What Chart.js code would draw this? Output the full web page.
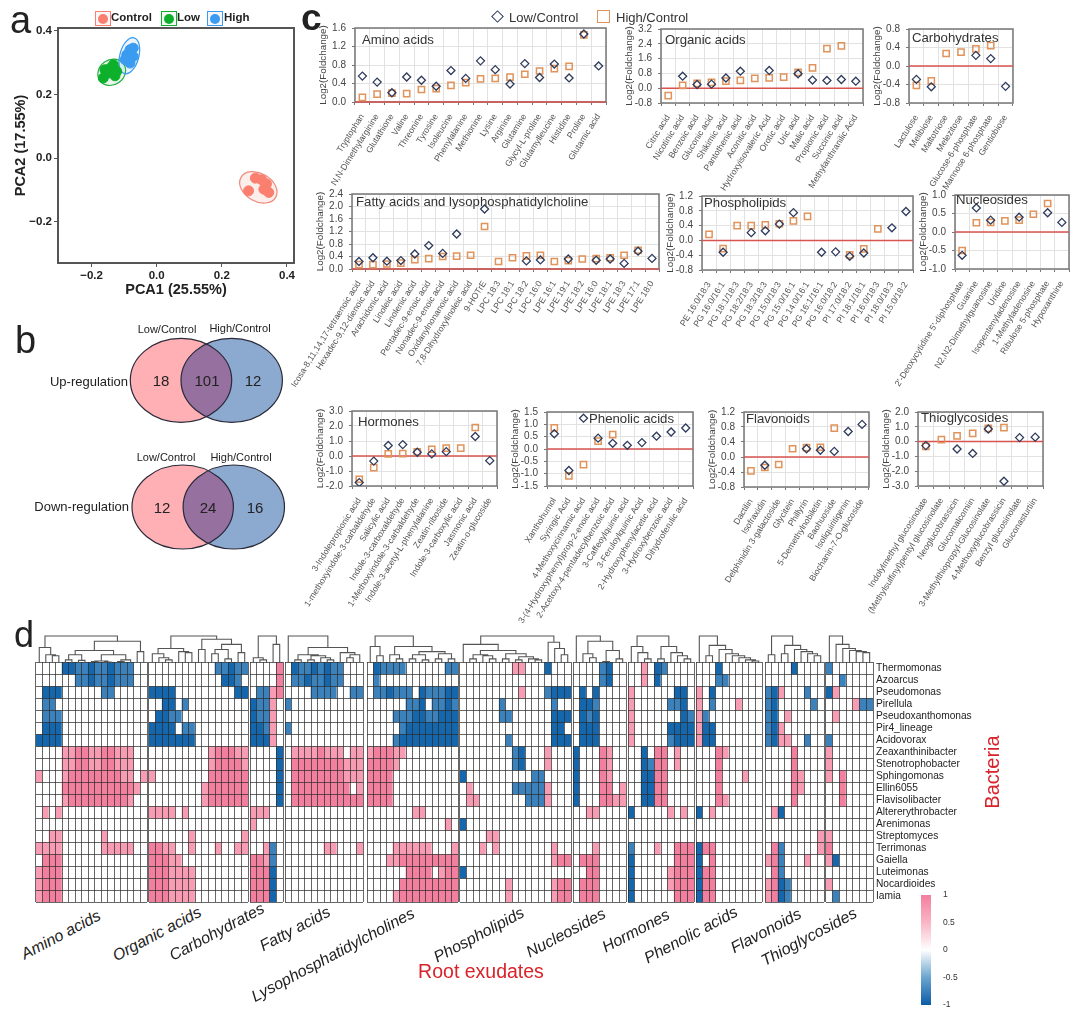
<!DOCTYPE html>
<html>
<head>
<meta charset="utf-8">
<title>Root exudates and bacteria</title>
<script src="https://cdn.jsdelivr.net/npm/chart.js@4/dist/chart.umd.min.js"></script>
<style>
html, body { margin: 0; padding: 0; background: #fff; }
#page { position: relative; width: 1080px; height: 1015px; overflow: hidden; font-family: "Liberation Sans", Arial, sans-serif; }
#page canvas { position: absolute; }
.txt { position: absolute; white-space: nowrap; line-height: 1; }
</style>
</head>
<body>
<div id="page"></div>
<script>
// PCA scores
const controlX = [0.282, 0.303, 0.322, 0.337, 0.329, 0.344];
const controlY = [-0.103, -0.063, -0.068, -0.081, -0.098, -0.108];
const lowX = [-0.164, -0.159, -0.143, -0.133, -0.123, -0.128, -0.148];
const lowY = [0.252, 0.278, 0.283, 0.294, 0.273, 0.259, 0.268];
const highX = [-0.072, -0.082, -0.092, -0.097, -0.082, -0.072, -0.087];
const highY = [0.346, 0.341, 0.325, 0.31, 0.299, 0.32, 0.315];
const pcaTicksX = [-0.2, 0, 0.2, 0.4];
const pcaTicksY = [-0.2, 0, 0.2, 0.4];

// Venn counts
const vennUp = [18, 101, 12];
const vennDown = [12, 24, 16];

// Fold change panels
const aminoNames = ["Tryptophan", "N,N-Dimethylarginine", "Glutathione", "Valine", "Threonine", "Tyrosine", "Isoleucine", "Phenylalanine", "Methionine", "Lysine", "Arginine", "Glutamine", "Glycyl-L-proline", "Glutamylleucine", "Histidine", "Proline", "Glutamic acid"];
const aminoLow = [0.56, 0.43, 0.2, 0.54, 0.47, 0.34, 0.68, 0.51, 0.89, 0.7, 0.39, 0.83, 0.53, 0.82, 0.52, 1.47, 0.78];
const aminoHigh = [0.1, 0.17, 0.19, 0.18, 0.27, 0.29, 0.36, 0.42, 0.5, 0.51, 0.54, 0.6, 0.67, 0.72, 0.77, 1.45, null];
const aminoTicks = [0, 0.4, 0.8, 1.2, 1.6];

const organicNames = ["Citric acid", "Nicotinic acid", "Benzoic acid", "Gluconic acid", "Shikimic acid", "Pantothenic acid", "Aconitic acid", "Hydroxyisovaleric Acid", "Orotic acid", "Uric acid", "Malic acid", "Propionic acid", "Succinic acid", "Methylanthranilic Acid"];
const organicLow = [null, 0.65, 0.2, 0.22, 0.55, 0.92, null, 0.96, null, 0.78, 0.44, 0.42, 0.47, 0.38];
const organicHigh = [-0.4, 0.15, 0.26, 0.31, 0.38, 0.42, 0.53, 0.56, 0.6, 0.85, 1.1, 2.14, 2.29, null];
const organicTicks = [-0.8, 0, 0.8, 1.6, 2.4, 3.2];

const carbNames = ["Lactulose", "Melibiose", "Maltotriose", "Melezitose", "Glucose-6-phosphate", "Mannose 6-phosphate", "Gentiobiose"];
const carbLow = [-0.29, -0.45, null, null, 0.23, 0.16, -0.44];
const carbHigh = [-0.42, -0.32, 0.27, 0.3, 0.37, 0.44, null];
const carbTicks = [-0.8, -0.4, 0, 0.4, 0.8];

const fattyNames = ["Icosa-8,11,14,17-tetraenoic acid", "Hexadec-9,12-dienoic acid", "Arachidonic acid", "Linoleic acid", "Linolenic acid", "Pentadec-9-enoic acid", "Nonadec-9-enoic acid", "Oxidanylnonanoic acid", "7,8-Dihydroxylinoleic acid", "9-HOTrE", "LPC 18:3", "LPC 18:1", "LPC 18:2", "LPC 16:0", "LPE 16:1", "LPE 19:1", "LPE 18:2", "LPE 16:0", "LPE 18:1", "LPE 18:3", "LPE 17:1", "LPE 18:0"];
const fattyLow = [0.24, 0.36, 0.25, 0.27, 0.48, 0.75, 0.5, 1.12, null, 1.92, null, null, 0.26, 0.29, null, 0.32, null, 0.28, 0.32, 0.18, 0.57, 0.34];
const fattyHigh = [0.14, 0.14, 0.16, 0.19, 0.3, 0.33, 0.4, 0.41, 0.44, 1.36, 0.24, 0.36, 0.42, 0.44, 0.24, 0.27, 0.32, 0.33, 0.36, 0.44, 0.6, null];
const fattyTicks = [0, 0.4, 0.8, 1.2, 1.6, 2.0, 2.4];

const phosphoNames = ["PE 16:0/18:3", "PG 16:0/16:1", "PG 18:1/18:3", "PG 18:2/18:3", "PG 18:3/18:3", "PG 15:0/18:3", "PG 15:0/16:1", "PG 14:0/16:1", "PG 16:1/16:1", "PG 16:0/18:2", "PI 17:0/18:2", "PI 18:1/18:1", "PI 16:0/18:3", "PI 18:0/18:3", "PI 15:0/18:2"];
const phosphoLow = [null, -0.32, null, 0.21, 0.26, 0.44, 0.75, null, -0.32, -0.31, -0.43, -0.34, null, 0.34, 0.78];
const phosphoHigh = [0.16, -0.22, 0.4, 0.4, 0.42, 0.45, 0.53, 0.65, null, null, -0.39, -0.23, 0.31, null, null];
const phosphoTicks = [-0.8, -0.4, 0, 0.4, 0.8, 1.2];

const nucleoNames = ["2'-Deoxycytidine 5'-diphosphate", "Guanine", "N2,N2-Dimethylguanosine", "Uridine", "Isopentenyladenosine", "1-Methyladenosine", "Ribulose 5-phosphate", "Hypoxanthine"];
const nucleoLow = [-0.63, 0.65, 0.32, null, 0.4, null, 0.52, 0.26];
const nucleoHigh = [-0.5, 0.25, 0.26, 0.3, 0.32, 0.48, 0.77, null];
const nucleoTicks = [-1, -0.5, 0, 0.5, 1];

const hormoneNames = ["3-Indolepropionic acid", "1-methoxyindole-3-carbaldehyde", "Salicylic acid", "Indole-3-carboxaldehyde", "1-Methoxyindole-3-carbaldehyde", "Indole-3-acetyl-L-phenylalanine", "Zeatin-riboside", "Indole-3-carboxylic acid", "Jasmonic acid", "Zeatin-o-glucoside"];
const hormoneLow = [-1.77, -0.34, 0.7, 0.76, 0.25, 0.14, 0.29, null, 1.3, -0.31];
const hormoneHigh = [-1.55, -0.78, 0.14, 0.16, 0.27, 0.45, 0.52, 0.52, 1.9, null];
const hormoneTicks = [-2, -1, 0, 1, 2, 3];

const phenolicNames = ["Xanthohumol", "Syringic Acid", "4-Methoxycinnamic acid", "3-(4-Hydroxyphenyl)prop-2-enoic acid", "2-Acetoxy-4-pentadecylbenzoic acid", "3-Caffeoylquinic acid", "3-Feruloylquinic Acid", "2-Hydroxyphenylacetic acid", "3-Hydroxybenzoic acid", "Dihydroferulic acid"];
const phenolicLow = [0.62, -0.87, 1.25, 0.44, 0.23, 0.15, 0.26, 0.52, 0.69, 0.85];
const phenolicHigh = [0.86, -1.09, -0.63, 0.32, 0.58, null, null, null, null, null];
const phenolicTicks = [-1.5, -1, -0.5, 0, 0.5, 1, 1.5];

const flavoNames = ["Dactilin", "Isofraxidin", "Delphinidin 3-galactoside", "Glycitein", "Phillyrin", "5-Demethylnobiletin", "Baohuoside", "Isoliquiritigenin", "Biochanin-7-O-glucoside"];
const flavoLow = [null, -0.22, null, null, 0.22, 0.18, 0.15, 0.68, 0.87];
const flavoHigh = [-0.37, -0.28, -0.2, 0.22, 0.25, 0.26, 0.77, null, null];
const flavoTicks = [-0.8, -0.4, 0, 0.4, 0.8, 1.2];

const thioNames = ["Indolylmethyl glucosinolate", "(Methylsulfinyl)pentyl glucosinolate", "Neoglucobrassicin", "Glucomalcomiin", "3-Methylthiopropyl-Glucosinolate", "4-Methoxyglucobrassicin", "Benzyl glucosinolate", "Gluconasturtiin"];
const thioLow = [-0.27, null, -0.5, -0.8, 0.85, -2.68, 0.27, 0.3];
const thioHigh = [-0.33, 0.13, 0.38, 0.56, 0.9, 0.94, null, null];
const thioTicks = [-3, -2, -1, 0, 1, 2];

// Heatmap rows, one string per bacterium. . = none, p/q = positive, b/c = negative
const bacteria = ["Thermomonas", "Azoarcus", "Pseudomonas", "Pirellula", "Pseudoxanthomonas", "Pir4_lineage", "Acidovorax", "Zeaxanthinibacter", "Stenotrophobacter", "Sphingomonas", "Ellin6055", "Flavisolibacter", "Altererythrobacter", "Arenimonas", "Streptomyces", "Terrimonas", "Gaiella", "Luteimonas", "Nocardioides", "Iamia"];
const aminoCells = ["....ccbbcbbcbbb..", "......bbcbbcbbb..", ".ccc......bb.....", ".bb..............", ".bbb.............", ".ccc.............", "cccc.............", "....ppqqppqqppp..", "....ppqqppqqppp..", "p...pqqqqqqqqpp.p", "....qqqqqqqqqqqp.", "....pqqqqqqqqqp..", ".p.p.............", ".................", "..pp......p......", "pppp......ppppp..", ".qqq.............", "pqqq.............", "pqqq.............", "pqqq............."];
const organicCells = ["..........bbcbb", "...........ccb.", "cccc.........cc", "..cc.b.........", ".ccbb..........", "cccc.bb........", "ccccccc........", ".........pqqqpp", ".........pqqqqp", "p........qqqqqq", "........pqqqqqq", "........pqqqqqq", "pppp.p.........", "...............", "......p.......p", "qqpp..p...p..pp", "qqqpp..........", "qqqpppp........", "qqqpppp........", "qqqpppp........"];
const carbCells = ["....q", "....q", ".bbpq", "cbbp.", "cbbp.", "ccbp.", "cccp.", "....c", "....c", "....c", "....c", "....c", "ppp..", "p....", ".....", "..pb.", "qqpb.", "qqqc.", "qqqc.", "qqqc."];
const fattyCells = [".cbbcbcbb...", ".bbcbbcbb...", "....bbbb..bb", "b...........", "............", "b...........", "............", ".ppppqppp.pp", ".qqqqqqqqppp", ".qqqqqqqqppp", ".qqqqqqqqq.p", ".qqqqqqqqqqq", "............", "............", "............", "......pp...p", "............", "............", "............", "............"];
const lysoCells = [".cbbbb......bb", ".b............", ".bbcbbb.cbbbcc", "......bbc.bbcb", "....bbbccbbccc", ".....bcccccccc", "....bccccccccc", "pqqqpp........", "qqqqp.........", "qqqq..........", "qqqq..........", "qqqq..........", ".......pp.....", "............p.", "..............", "....pppppp...p", "...ppqqqqqqqqq", "......qqqq.pqq", ".....qqqqqqqqq", "....pqqqqqqqqq"];
const phosphoCells = ["........pp...c...", ".................", ".........p...bccc", "......b.......b..", "......bb......ccc", "..............cc.", ".......b......ccc", "........bc...p...", "........bc...p...", "c..........bb....", ".p......bbbbbp...", ".pp.......bbbp...", ".................", "c................", "....pp...........", "...p.p........p..", "..............pqq", "c................", ".......p......pqq", ".......p......pqq"];
const nucleoCells = ["....bc..", "....bc..", ".c.c....", ".ccb....", ".cbc....", ".ccc....", ".ccc....", "c...qp..", "c...qp..", "c...qp..", "c...qq.p", "c...qqpp", "..pp....", "........", "........", "...p....", ".qqq....", "..qq....", ".qqq....", ".qqq...."];
const hormoneCells = ["..p.cb....", "..p.c.....", "p......cc.", "p.....bbc.", "p.......cb", "p.....cccc", "p.....bccc", "..c.qq.p..", "..cbqq.p..", "..ccqq....", "..ccqq....", "..ccqq....", "c.....p.p.", "..........", "..........", "b...p..qqq", "c......qqq", "c.....pqqq", "c.....pqqq", "c......qqq"];
const phenolicCells = ["...c......", "...bb.....", "p.c.......", "p.b...p...", "pb........", "pcc.......", "pcc.......", "...qp.....", "...q......", "...q...p..", "...q......", "...qp.....", "c.p.......", "..........", "..........", "cqq.......", "c.q.......", "cqq.......", "cqq.......", "cqq......."];
const flavoCells = ["....c....", ".........", "bcp...b..", "bc.....b.", "bc.p.....", "bcp......", "bcpp..b..", "....q....", "....q....", "....qp...", "....qp...", "....q....", ".pc......", ".........", "........p", ".qb.....p", "pqb...p..", ".qb......", "pqcb.....", "pqcb....."];
const thioCells = ["b......", "..b....", "cp.....", "....pbb", ".p.....", ".......", "b......", "p......", "p......", "p.q....", "..q....", "..q....", ".......", ".......", "p......", "q......", "pc.....", ".......", "p......", ".b....."];

// Cluster trees over the columns: [merge height, left, right], a plain number is a leaf
const aminoTree = [26, [15, 0, [8, 1, [7, 2, 3]]], [21, [12, [8, [3, 4, 5], [2.5, 6, 7]], [8, [2, [1.5, 8, 9], [1, 10, 11]], [3, [1.5, 12, 13], 14]]], [11, 15, 16]]];
const organicTree = [26, [14, [9, 0, [5, 1, [3, 2, 3]]], [11, 4, [10, 5, 6]]], [23, [13, 7, 8], [18, [13, [9, 9, 10], [4, 11, 12]], [10, 13, 14]]]];
const carbTree = [26, [5, 0, [3, 1, 2]], [18, 3, 4]];
const fattyTree = [26, 0, [15, [8, [3, 1, 2], [7, [3, 3, 4], [5, 5, [3, 6, 7]]]], [10, 8, [8, [5, 9, 10], 11]]]];
const lysoTree = [26, [16, 0, [7, 1, 2]], [16, [8, 3, [4, 4, 5]], [11, [8, [4, 6, 7], [3, 8, 9]], [9, [4, 10, 11], [4, 12, 13]]]]];
const phosphoTree = [26, [18, 0, [12, [8, [4, 1, 2], [7, 3, [4, 4, 5]]], [9, [4, 6, 7], [6, [3, 8, 9], [4, 10, [3, 11, 12]]]]]], [20, 13, [14, 14, [8, 15, 16]]]];
const nucleoTree = [26, 0, [21, [9, 1, [5, 2, 3]], [12, [1.5, 4, 5], [4, 6, 7]]]];
const hormoneTree = [26, [16, 0, [10, 1, [4, 2, 3]]], [16, [4, 4, 5], [10, 6, [7, 7, [4, 8, 9]]]]];
const phenolicTree = [26, 0, [17, [7, 1, 2], [13, 3, [9, 4, [7, 5, [5, 6, [3, 7, [2, 8, 9]]]]]]]];
const flavoTree = [26, [8, 0, 1], [17, [9, 2, 3], [13, 4, [11, 5, [9, 6, [7, 7, 8]]]]]];
const thioTree = [26, 0, [18, 1, [14, 2, [12, 3, [11, 4, [10, 5, 6]]]]]];

const colorbarTicks = [-1, -0.5, 0, 0.5, 1];

const page = document.getElementById("page");
const DARK = "#222";
const LOW_LINE = "#2f3b5c";
const HIGH_LINE = "#e0935a";
const cellColors = { ".": "#ffffff", p: "#f79cb3", q: "#f27f9d", b: "#3b82bd", c: "#1467ac" };

Chart.defaults.animation = false;
Chart.defaults.responsive = false;
Chart.defaults.font.family = '"Liberation Sans", Arial, sans-serif';
Chart.defaults.plugins.legend.display = false;
Chart.defaults.plugins.tooltip.enabled = false;

function addCanvas(x, y, w, h) {
    const c = document.createElement("canvas");
    c.width = w;
    c.height = h;
    c.style.left = x + "px";
    c.style.top = y + "px";
    c.style.width = w + "px";
    c.style.height = h + "px";
    page.appendChild(c);
    return c;
}

function addText(str, x, y, o = {}) {
    const s = document.createElement("span");
    s.className = "txt";
    s.textContent = str;
    s.style.left = x + "px";
    s.style.top = y + "px";
    s.style.fontSize = (o.size || 11) + "px";
    s.style.color = o.color || DARK;
    if (o.bold) s.style.fontWeight = "bold";
    if (o.italic) s.style.fontStyle = "italic";
    const shift = o.align === "r" ? "-100%" : o.align === "c" ? "-50%" : "0";
    s.style.transform = `translate(${shift},-50%)` + (o.rot ? ` rotate(${o.rot}deg)` : "");
    page.appendChild(s);
}

// Frame round the plot area, with the optional red zero line on top of it
const framePlugin = {
    id: "frame",
    beforeDatasetsDraw(chart, args, opts) {
        const a = chart.chartArea, g = chart.ctx;
        g.save();
        g.strokeStyle = opts.color;
        g.lineWidth = opts.width;
        g.strokeRect(a.left, a.top, a.right - a.left, a.bottom - a.top);
        if (opts.zero) {
            const y0 = chart.scales.y.getPixelForValue(0);
            g.strokeStyle = "#d9534f";
            g.lineWidth = 1.5;
            g.beginPath();
            g.moveTo(a.left, y0);
            g.lineTo(a.right, y0);
            g.stroke();
        }
        g.restore();
    }
};

// ---------- panel a ----------
const pcaEllipses = [
    { x: 0.312, y: -0.092, rx: 20, ry: 14, rot: 30, line: "#f08a7c", fill: "rgba(245,190,175,0.25)" },
    { x: -0.138, y: 0.27, rx: 14.5, ry: 12.5, rot: -35, line: "#22ad3c", fill: "rgba(34,173,60,0.1)" },
    { x: -0.084, y: 0.322, rx: 18.5, ry: 9.5, rot: -75, line: "#3a9bf0", fill: "rgba(58,155,240,0.1)" }
];
const ellipsePlugin = {
    id: "ellipses",
    beforeDatasetsDraw(chart) {
        const g = chart.ctx;
        pcaEllipses.forEach(e => {
            g.save();
            g.beginPath();
            g.ellipse(chart.scales.x.getPixelForValue(e.x), chart.scales.y.getPixelForValue(e.y), e.rx, e.ry, e.rot * Math.PI / 180, 0, Math.PI * 2);
            g.fillStyle = e.fill;
            g.fill();
            g.strokeStyle = e.line;
            g.lineWidth = 1.2;
            g.stroke();
            g.restore();
        });
    }
};
function pairs(xs, ys) {
    return xs.map((x, i) => ({ x: x, y: ys[i] }));
}
function pcaDataset(xs, ys, color) {
    return { data: pairs(xs, ys), backgroundColor: color, borderColor: color, pointRadius: 5, showLine: false };
}
function pcaAxis(min, max, ticks, title) {
    return {
        type: "linear", min: min, max: max,
        afterBuildTicks: s => { s.ticks = ticks.map(v => ({ value: v })); },
        grid: { drawOnChartArea: false, tickLength: 4, tickColor: "#555" },
        border: { display: false },
        ticks: { autoSkip: false, color: DARK, padding: 2, font: { size: 11.5, weight: "bold" }, callback: v => v < 0 ? "\u2212" + Math.abs(v).toFixed(1) : v.toFixed(1) },
        title: { display: true, text: title, color: DARK, padding: 0, font: { size: 14.5, weight: "bold" } }
    };
}
new Chart(addCanvas(0, 0, 310, 299), {
    type: "scatter",
    data: { datasets: [pcaDataset(controlX, controlY, "#fa7f6f"), pcaDataset(lowX, lowY, "#0db02b"), pcaDataset(highX, highY, "#3a9bf0")] },
    options: {
        layout: { padding: { left: 12, top: 28, right: 16, bottom: 0 } },
        scales: {
            x: Object.assign(pcaAxis(-0.303, 0.4215, pcaTicksX, "PCA1 (25.55%)"), { afterFit: s => { s.height = 36; s.paddingLeft = 0; s.paddingRight = 0; } }),
            y: Object.assign(pcaAxis(-0.33, 0.4094, pcaTicksY, "PCA2 (17.55%)"), { afterFit: s => { s.width = 46; s.paddingTop = 0; s.paddingBottom = 0; } })
        },
        plugins: { frame: { color: "#555", width: 2 } }
    },
    plugins: [framePlugin, ellipsePlugin]
});

// legend of panel a
[[95, "#fa7f6f", "Control", 111], [161, "#0db02b", "Low", 177], [207, "#3a9bf0", "High", 224]].forEach(k => {
    const box = document.createElement("div");
    box.style.cssText = `position:absolute;left:${k[0]}px;top:11px;width:14px;height:13px;border:1.2px solid ${k[1]};background:#f6f6f6`;
    const dot = document.createElement("div");
    dot.style.cssText = `position:absolute;left:2px;top:1.5px;width:10px;height:10px;border-radius:50%;background:${k[1]}`;
    box.appendChild(dot);
    page.appendChild(box);
    addText(k[2], k[3], 18, { size: 11.5, bold: true });
});

// ---------- panel b ----------
const vennShapes = [
    { left: 181, right: 231.7, y: 380.3 },
    { left: 182.7, right: 233.8, y: 507 }
];
const vennPlugin = {
    id: "venn",
    beforeDatasetsDraw(chart) {
        const g = chart.ctx, sx = chart.scales.x, sy = chart.scales.y;
        const path = (x, y) => {
            g.beginPath();
            g.ellipse(sx.getPixelForValue(x), sy.getPixelForValue(y), 50.7, 42, 0, 0, Math.PI * 2);
        };
        vennShapes.forEach(v => {
            g.save();
            path(v.left, v.y);
            g.fillStyle = "#ffb0b5";
            g.fill();
            path(v.right, v.y);
            g.fillStyle = "#8ca9cf";
            g.fill();
            path(v.left, v.y);
            g.clip();
            path(v.right, v.y);
            g.fillStyle = "#96709f";
            g.fill();
            g.restore();
            g.strokeStyle = "#2a2a3a";
            g.lineWidth = 1.2;
            path(v.left, v.y);
            g.stroke();
            path(v.right, v.y);
            g.stroke();
        });
    }
};
new Chart(addCanvas(0, 310, 300, 240), {
    type: "scatter",
    data: { datasets: [{ data: [] }] },
    options: {
        scales: {
            x: { display: false, min: 0, max: 300 },
            y: { display: false, min: 310, max: 550, reverse: true }
        }
    },
    plugins: [vennPlugin]
});
addText("Low/Control", 167, 329, { size: 11, align: "c" });
addText("High/Control", 240, 328, { size: 11, align: "c" });
addText("Up-regulation", 128, 381, { size: 13, align: "r" });
vennUp.forEach((n, i) => addText(String(n), [161, 207, 253][i], 380, { size: 15, align: "c" }));
addText("Low/Control", 166, 457, { size: 11, align: "c" });
addText("High/Control", 241, 457, { size: 11, align: "c" });
addText("Down-regulation", 129, 506, { size: 13, align: "r" });
vennDown.forEach((n, i) => addText(String(n), [162, 208, 255][i], 507, { size: 15, align: "c" }));

// ---------- panel c ----------
function foldChart(x, y, w, h, names, low, high, ticks, title, titleX, titleY) {
    const bottom = 155;
    const canvas = addCanvas(x - 118, y - 6, w + 124, h + 6 + bottom);
    new Chart(canvas, {
        type: "line",
        data: {
            labels: names,
            datasets: [
                { label: "Low/Control", data: low, showLine: false, pointStyle: "rectRot", pointRadius: 4, borderColor: LOW_LINE, backgroundColor: "transparent", pointBorderWidth: 1.3 },
                { label: "High/Control", data: high, showLine: false, pointStyle: "rect", pointRadius: 4.4, borderColor: HIGH_LINE, backgroundColor: "transparent", pointBorderWidth: 1.5 }
            ]
        },
        options: {
            layout: { padding: { left: 80, top: 6, right: 6, bottom: 0 } },
            scales: {
                x: {
                    offset: true,
                    grid: { offset: true, color: "#e2e2e2", tickColor: "#777", tickLength: 3 },
                    border: { display: false },
                    ticks: { autoSkip: false, minRotation: 58, maxRotation: 58, color: "#555", padding: 7, font: { size: 8.7 } },
                    afterFit: s => { s.height = bottom; s.paddingLeft = 0; s.paddingRight = 0; }
                },
                y: {
                    min: ticks[0],
                    max: ticks[ticks.length - 1],
                    afterBuildTicks: s => { s.ticks = ticks.map(v => ({ value: v })); },
                    grid: { color: "#e2e2e2", tickColor: "#777", tickLength: 3 },
                    border: { display: false },
                    ticks: { autoSkip: false, color: "#444", padding: 6, font: { size: 10 }, callback: v => v.toFixed(1) },
                    title: { display: true, text: "Log2(Foldchange)", color: "#444", padding: 0, font: { size: 9.8 } },
                    afterFit: s => { s.width = 38; s.paddingTop = 0; s.paddingBottom = 0; }
                }
            },
            plugins: { frame: { color: "#777", width: 1.5, zero: true } }
        },
        plugins: [framePlugin]
    });
    addText(title, titleX, titleY, { size: 13.2, color: "#333" });
}

foldChart(355, 28, 251, 74, aminoNames, aminoLow, aminoHigh, aminoTicks, "Amino acids", 362, 40);
foldChart(661, 29, 202, 74, organicNames, organicLow, organicHigh, organicTicks, "Organic acids", 665, 40);
foldChart(909, 29, 104, 74, carbNames, carbLow, carbHigh, carbTicks, "Carbohydrates", 912, 38);
foldChart(352, 194, 307, 75, fattyNames, fattyLow, fattyHigh, fattyTicks, "Fatty acids and lysophosphatidylcholine", 356, 202);
foldChart(702, 196, 211, 74, phosphoNames, phosphoLow, phosphoHigh, phosphoTicks, "Phospholipids", 704, 203);
foldChart(955, 195, 114, 74, nucleoNames, nucleoLow, nucleoHigh, nucleoTicks, "Nucleosides", 956, 200);
foldChart(352, 411, 145, 75, hormoneNames, hormoneLow, hormoneHigh, hormoneTicks, "Hormones", 358, 422);
foldChart(547, 412, 146, 74, phenolicNames, phenolicLow, phenolicHigh, phenolicTicks, "Phenolic acids", 589, 419);
foldChart(744, 412, 125, 75, flavoNames, flavoLow, flavoHigh, flavoTicks, "Flavonoids", 746, 419);
foldChart(918, 412, 125, 74, thioNames, thioLow, thioHigh, thioTicks, "Thioglycosides", 921, 418);

// legend of panel c
const diamond = document.createElement("div");
diamond.style.cssText = `position:absolute;left:492.5px;top:11.5px;width:7px;height:7px;border:1.4px solid ${LOW_LINE};transform:rotate(45deg)`;
page.appendChild(diamond);
addText("Low/Control", 509, 17, { size: 13, color: "#333" });
const square = document.createElement("div");
square.style.cssText = `position:absolute;left:597px;top:10px;width:11px;height:11px;border:1.4px solid ${HIGH_LINE}`;
page.appendChild(square);
addText("High/Control", 616, 17, { size: 13, color: "#333" });

// ---------- panel d ----------
function treeLine(node, points) {
    // returns [x, height] of the node and pushes the bracket of every merge
    if (typeof node === "number") return [node + 0.5, 0];
    const a = treeLine(node[1], points), b = treeLine(node[2], points);
    points.push({ x: a[0], y: a[1] }, { x: a[0], y: node[0] }, { x: b[0], y: node[0] }, { x: b[0], y: b[1] }, { x: null, y: null });
    return [(a[0] + b[0]) / 2, node[0]];
}

function heatGroup(x, w, cells, tree) {
    const n = cells[0].length;
    const cols = Array.from(cells[0], (c, i) => i);
    new Chart(addCanvas(x - 1, 661, w + 2, 242), {
        type: "bar",
        data: {
            labels: cols,
            datasets: cells.map(row => ({
                data: cols.map(() => 1),
                backgroundColor: Array.from(row, c => cellColors[c]),
                borderWidth: 0,
                barPercentage: 1,
                categoryPercentage: 1
            }))
        },
        options: {
            layout: { padding: 1 },
            scales: {
                x: { stacked: true, grid: { offset: true, z: 1, color: "rgba(45,45,45,0.72)", drawTicks: false }, border: { display: false }, ticks: { display: false } },
                y: { stacked: true, reverse: true, min: 0, max: 20, grid: { z: 1, color: "rgba(45,45,45,0.72)", drawTicks: false }, border: { display: false }, ticks: { display: false, stepSize: 1 } }
            }
        }
    });
    const points = [];
    treeLine(tree, points);
    new Chart(addCanvas(x, 634, w, 29), {
        type: "scatter",
        data: { datasets: [{ data: points, showLine: true, spanGaps: false, borderColor: "#555", borderWidth: 1.1, pointRadius: 0 }] },
        options: {
            scales: {
                x: { display: false, min: 0, max: n },
                y: { display: false, min: 0, max: 28 }
            }
        }
    });
}

heatGroup(36, 111, aminoCells, aminoTree);
heatGroup(149, 99, organicCells, organicTree);
heatGroup(250, 33, carbCells, carbTree);
heatGroup(285, 78, fattyCells, fattyTree);
heatGroup(367, 91, lysoCells, lysoTree);
heatGroup(460, 111, phosphoCells, phosphoTree);
heatGroup(573, 53, nucleoCells, nucleoTree);
heatGroup(628, 66, hormoneCells, hormoneTree);
heatGroup(696, 66, phenolicCells, phenolicTree);
heatGroup(765, 59, flavoCells, flavoTree);
heatGroup(826, 47, thioCells, thioTree);

bacteria.forEach((b, i) => addText(b, 876, 668 + i * 12, { size: 10.2, color: "#222" }));

[["Amino acids", 61, 935], ["Organic acids", 157, 934], ["Carbohydrates", 217, 932], ["Fatty acids", 295, 929], ["Lysophosphatidylcholines", 333, 955], ["Phospholipids", 479, 935], ["Nucleosides", 566, 933], ["Hormones", 636, 931], ["Phenolic acids", 691, 935], ["Flavonoids", 766, 931], ["Thioglycosides", 809, 937]].forEach(k => {
    addText(k[0], k[1], k[2], { size: 16, italic: true, color: "#222", align: "c", rot: -28 });
});
addText("Root exudates", 481, 972, { size: 19.5, color: "#d8232a", align: "c" });
addText("Bacteria", 992, 772, { size: 20, color: "#d8232a", align: "c", rot: -90 });

// colour bar
new Chart(addCanvas(920, 890, 40, 120), {
    type: "bar",
    data: {
        labels: [""],
        datasets: [{
            data: [[-1, 1]],
            barPercentage: 1,
            categoryPercentage: 1,
            borderWidth: 0,
            backgroundColor: ctx => {
                const a = ctx.chart.chartArea;
                if (!a) return "#fff";
                const g = ctx.chart.ctx.createLinearGradient(0, a.top, 0, a.bottom);
                g.addColorStop(0, "#f27f9d");
                g.addColorStop(0.25, "#f9b5c6");
                g.addColorStop(0.5, "#ffffff");
                g.addColorStop(0.75, "#6ba5cf");
                g.addColorStop(1, "#0b5ca6");
                return g;
            }
        }]
    },
    options: {
        layout: { padding: { left: 1, top: 5, right: 0, bottom: 5 } },
        scales: {
            x: { display: false },
            y: {
                position: "right", min: -1, max: 1,
                afterBuildTicks: s => { s.ticks = colorbarTicks.map(v => ({ value: v })); },
                grid: { display: false },
                border: { display: false },
                ticks: { autoSkip: false, color: "#333", padding: 4, font: { size: 8.5 }, callback: v => String(v) },
                afterFit: s => { s.width = 29; s.paddingTop = 0; s.paddingBottom = 0; }
            }
        }
    }
});

// panel letters
addText("a", 10, 20, { size: 38 });
addText("b", 15, 340, { size: 38 });
addText("c", 301, 17, { size: 37, bold: true });
addText("d", 14, 635, { size: 36 });
</script>
</body>
</html>
